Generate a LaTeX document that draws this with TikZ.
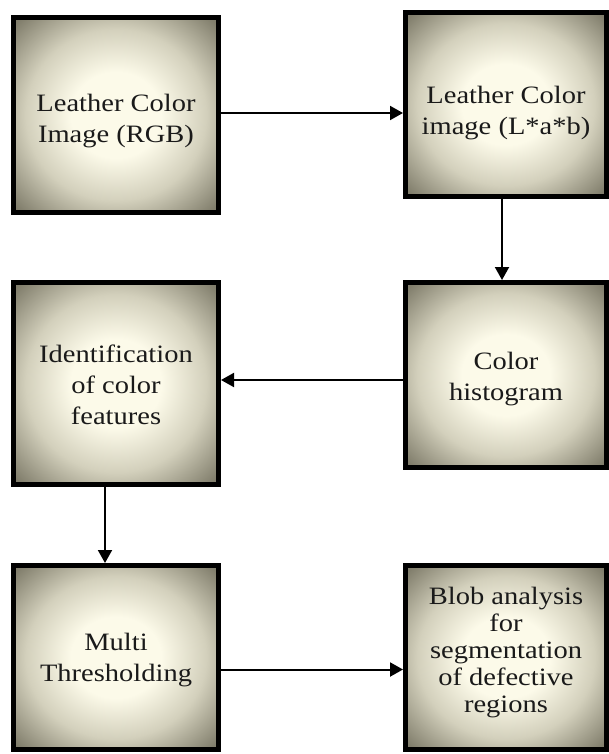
\documentclass[tikz,border=0pt]{standalone}
\usepackage{fontspec}
\setmainfont[FakeStretch=1.14]{Liberation Serif}
\usetikzlibrary{arrows.meta}
\definecolor{cream}{HTML}{FCFAE9}
\definecolor{midtone}{HTML}{D3D0BC}
\definecolor{outertone}{HTML}{807D6B}
\definecolor{inktext}{HTML}{1A1A1A}
\pgfdeclareradialshading{leathershade}{\pgfpoint{0bp}{0bp}}{%
  color(0bp)=(cream); color(11bp)=(cream); color(22bp)=(midtone);
  color(34bp)=(outertone); color(50bp)=(outertone)}
\newcommand\boxtext[2]{\raisebox{#1}[\height][\depth]{\begin{tabular}{@{}c@{}}#2\end{tabular}}}
\tikzset{
  stagebox/.style={draw=black, line width=5pt, rectangle, shading=leathershade,
    align=center, text=inktext, inner sep=2pt,
    font=\fontsize{25}{31}\selectfont},
  flowarrow/.style={line width=2pt, -{Triangle[length=13pt,width=14pt]}}
}
\begin{document}
\begin{tikzpicture}[x=1pt,y=-1pt]
\useasboundingbox (0,0) rectangle (609,754);
\node[stagebox, minimum width=205pt, minimum height=195pt] (b1) at (116,115) {\boxtext{-6pt}{Leather Color\\Image (RGB)}};
\node[stagebox, minimum width=201pt, minimum height=184pt] (b2) at (506,104.5) {\boxtext{-8pt}{Leather Color\\image (L*a*b)}};
\node[stagebox, minimum width=205pt, minimum height=202pt] (b3) at (116,383.5) {\boxtext{-4pt}{Identification\\of color\\features}};
\node[stagebox, minimum width=201pt, minimum height=185pt] (b4) at (506,375) {\boxtext{-4pt}{Color\\histogram}};
\node[stagebox, minimum width=205pt, minimum height=184pt] (b5) at (116,657.5) {\boxtext{-2pt}{Multi\\Thresholding}};
\node[stagebox, minimum width=201pt, minimum height=184pt, font=\fontsize{25}{27}\selectfont] (b6) at (506,657.5) {\boxtext{4pt}{Blob analysis\\for\\segmentation\\of defective\\regions}};
\draw[flowarrow] ([yshift=2pt]b1.east) -- ([yshift=2pt]b1.east -| b2.west);
\draw[flowarrow] ([xshift=-4pt]b2.south) -- ([xshift=-4pt]b2.south |- b4.north);
\draw[flowarrow] ([yshift=-5pt]b4.west) -- ([yshift=-5pt]b4.west -| b3.east);
\draw[flowarrow] ([xshift=-11pt]b3.south) -- ([xshift=-11pt]b3.south |- b5.north);
\draw[flowarrow] ([yshift=-12pt]b5.east) -- ([yshift=-12pt]b5.east -| b6.west);
\end{tikzpicture}
\end{document}
